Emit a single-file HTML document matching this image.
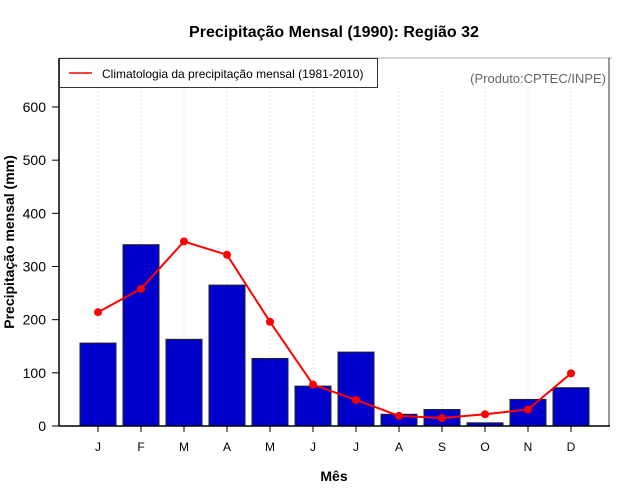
<!DOCTYPE html>
<html><head><meta charset="utf-8"><style>
body{margin:0;background:#fff}
svg{display:block;font-family:"Liberation Sans",sans-serif}
</style></head><body>
<svg id="chart" width="640" height="500">
<text x="334" y="37" text-anchor="middle" font-size="16" font-weight="bold">Precipitação Mensal (1990): Região 32</text>
<g id="grid"></g>
<g id="bars"></g>
<g id="line"></g>
<line x1="59" y1="58" x2="612" y2="58" stroke="#aaa" stroke-width="1"/>
<line x1="59" y1="58" x2="59" y2="426" stroke="#000" stroke-width="1.5"/>
<line x1="609" y1="58" x2="609" y2="426" stroke="#333" stroke-width="1"/>
<line x1="59" y1="426" x2="610" y2="426" stroke="#000" stroke-width="1.5"/>
<g id="yaxis"></g>
<g id="xaxis"></g>
<text x="334" y="481" text-anchor="middle" font-size="14" font-weight="bold">Mês</text>
<text transform="translate(14,242) rotate(-90)" text-anchor="middle" font-size="14" font-weight="bold">Precipitação mensal (mm)</text>
<g>
<rect x="59.5" y="58.5" width="318" height="29" fill="#fff" stroke="#333"/>
<line x1="69" y1="73" x2="92" y2="73" stroke="red" stroke-width="1.5"/>
<text x="102" y="78" font-size="12">Climatologia da precipitação mensal (1981-2010)</text>
</g>
<text x="606" y="83" text-anchor="end" font-size="13" fill="#666">(Produto:CPTEC/INPE)</text>
</svg>
<script>
const months = ["J","F","M","A","M","J","J","A","S","O","N","D"];
const observed = [156,341,163,265,127,75,139,22,31,6,50,72];
const climatology = [214,258,347,322,196,78,49,19,15,22,31,99];
const yTicks = [0,100,200,300,400,500,600];
const NS="http://www.w3.org/2000/svg";
const xs = i => 98 + i*43;
const ys = v => 426 - v*(319/600);
function mk(tag, attrs, parent){const e=document.createElementNS(NS,tag);for(const k in attrs)e.setAttribute(k,attrs[k]);document.getElementById(parent).appendChild(e);return e;}
months.forEach((m,i)=>{
  const g=mk("line",{x1:xs(i),x2:xs(i),y1:87,y2:426,stroke:"#e4e4e4","stroke-dasharray":"2,2"},"grid");
  
  
  const t=mk("line",{x1:xs(i),x2:xs(i),y1:426,y2:432,stroke:"#000"},"xaxis");
  
  
  const l=mk("text",{x:xs(i),y:451,"text-anchor":"middle","font-size":"12"},"xaxis");
  l.textContent=m;
  
  
});
yTicks.forEach(v=>{
  const t=mk("line",{x1:52,x2:59,y1:ys(v),y2:ys(v),stroke:"#000"},"yaxis");
  
  
  const l=mk("text",{x:46,y:ys(v)+5,"text-anchor":"end","font-size":"14"},"yaxis");
  l.textContent=v;
  
  
});
observed.forEach((v,i)=>{
  const b=mk("rect",{x:xs(i)-18,y:ys(v),width:36,height:426-ys(v),fill:"#0000cc",stroke:"#222","stroke-width":1},"bars");
  
  
});
const pl=mk("polyline",{points:climatology.map((v,i)=>xs(i)+","+ys(v)).join(" "),fill:"none",stroke:"red","stroke-width":2},"line");


climatology.forEach((v,i)=>{
  const c=mk("circle",{cx:xs(i),cy:ys(v),r:4,fill:"red"},"line");
  
  
});
</script>
</body></html>
